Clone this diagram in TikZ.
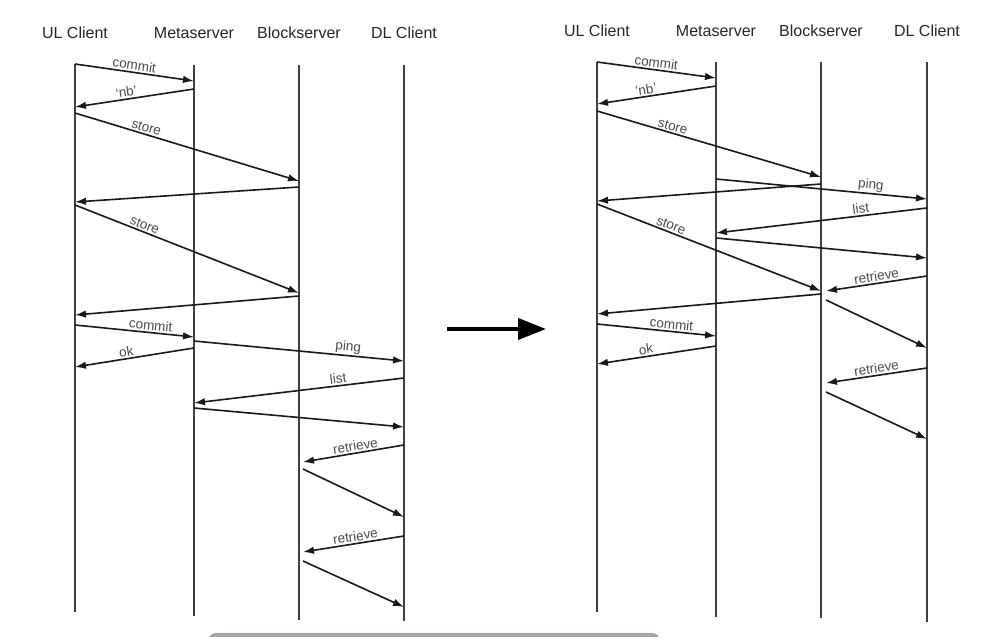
\documentclass[tikz,border=0pt]{standalone}
\usepackage{fontspec}
\setmainfont{Liberation Sans}
\usetikzlibrary{arrows.meta}

\definecolor{barGray}{RGB}{168,164,168}

\tikzset{
	head/.style = {font = \fontsize{16}{19}\selectfont, text = black!85},
	life/.style = {line width = 1.3pt, draw = black!75},
	msg/.style = {line width = 1.6pt, draw = black!90, -{Latex[length = 11pt, width = 7.5pt]}},
	lbl/.style = {font = \fontsize{13.5}{16}\selectfont, text = black!70, sloped, above, inner sep = 1.5pt}
}

\begin{document}
\begin{tikzpicture}[x = 1pt, y = -1pt]
\useasboundingbox (0,0) rectangle (1007,637);

\foreach \n/\x/\y/\t in {ulA/75/33/UL Client, msA/194/33/Metaserver, bsA/299/33/Blockserver, dlA/404/33/DL Client,
	ulB/597/31/UL Client, msB/716/31/Metaserver, bsB/821/31/Blockserver, dlB/927/31/DL Client}
	\node[head] (\n) at (\x,\y) {\t};

\foreach \n/\a/\b in {ulA/64/612, msA/65/616, bsA/65/620, dlA/65/621, ulB/62/612, msB/62/617, bsB/62/618, dlB/62/622}
	\draw[life] (\n |- 0,\a) -- (\n |- 0,\b);

\coordinate (bsAr) at ([xshift = 4pt]bsA);
\coordinate (bsBr) at ([xshift = 5pt]bsB);

\foreach \a/\ya/\b/\yb/\p/\t in {ulA/64/msA/81/0.49/commit, msA/89/ulA/107/0.56/`nb', ulA/113/bsA/181/0.31/store,
	ulA/205/bsA/293/0.30/store, ulA/325/msA/337/0.63/commit, msA/348/ulA/367/0.56/ok, msA/341/dlA/361/0.73/ping,
	dlA/378/msA/403/0.31/list, dlA/445/bsAr/462/0.47/retrieve, dlA/536/bsAr/552/0.47/retrieve,
	ulB/62/msB/78/0.49/commit, msB/86/ulB/104/0.58/`nb', ulB/111/bsB/177/0.33/store, msB/179/dlB/199/0.73/ping,
	dlB/208/msB/233/0.31/list, ulB/204/bsB/291/0.32/store, dlB/276/bsBr/291/0.49/retrieve,
	ulB/324/msB/336/0.62/commit, msB/346/ulB/364/0.58/ok, dlB/368/bsBr/383/0.49/retrieve}
	\draw[msg] (\a |- 0,\ya) -- (\b |- 0,\yb) node[lbl, pos = \p] {\t};

\foreach \a/\ya/\b/\yb in {bsA/187/ulA/202, bsA/296/ulA/315, msA/408/dlA/427, bsAr/469/dlA/517, bsAr/561/dlA/607,
	bsB/184/ulB/201, msB/238/dlB/258, bsB/294/ulB/314, bsBr/300/dlB/348, bsBr/392/dlB/439}
	\draw[msg] (\a |- 0,\ya) -- (\b |- 0,\yb);

\coordinate (tail) at (447,329);
\coordinate (tip) at (546,329);
\draw[line width = 4pt, -{Triangle[length = 28pt, width = 21pt]}] (tail) -- (tip);

\fill[barGray, rounded corners = 8pt] (208,633) rectangle (660,660);
\end{tikzpicture}
\end{document}
